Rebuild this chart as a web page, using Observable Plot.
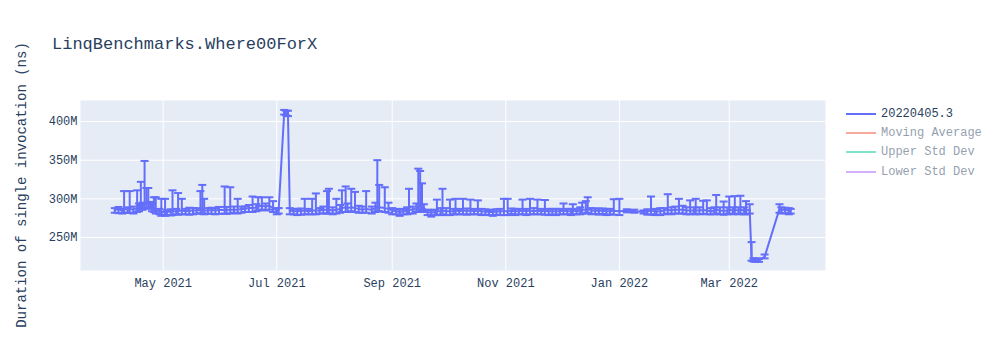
<!DOCTYPE html>
<html><head><meta charset="utf-8">
<script src="https://cdn.jsdelivr.net/npm/d3@7"></script>
<script src="https://cdn.jsdelivr.net/npm/@observablehq/plot@0.6"></script>
<style>
body{margin:0;background:#fff;}
#wrap{position:relative;width:1000px;height:350px;font-family:"Courier New","Liberation Mono",monospace;color:#2a3f5f;}
#title{position:absolute;left:52px;top:35px;font-size:17px;line-height:20px;white-space:pre;}
#ylabel{position:absolute;left:22px;top:185px;font-size:14px;white-space:pre;transform:translate(-50%,-50%) rotate(-90deg);}
#legend{position:absolute;left:846px;top:104px;font-size:12px;}
.item{height:19.4px;display:flex;align-items:center;white-space:pre;}
.sw{width:30px;height:2px;margin-right:5px;}
#chart{position:absolute;left:0;top:0;}
</style></head>
<body><div id="wrap"><div id="chart"></div><div id="title"></div><div id="ylabel"></div><div id="legend"></div></div>
<script>
const titleText = "LinqBenchmarks.Where00ForX";
const yLabelText = "Duration of single invocation (ns)";
const seriesNames = ["20220405.3", "Moving Average", "Upper Std Dev", "Lower Std Dev"];
const seriesColors = ["#636efa", "#EF553B", "#00cc96", "#ab63fa"];
const seriesVisible = [true, false, false, false];

const xTickDates = ["2021-05-01","2021-07-01","2021-09-01","2021-11-01","2022-01-01","2022-03-01"];
const yTicks = [250, 300, 350, 400]; // millions of ns

const dates = [
"2021-04-05","2021-04-07","2021-04-09","2021-04-10","2021-04-12","2021-04-13","2021-04-15","2021-04-17","2021-04-18","2021-04-19","2021-04-20","2021-04-21","2021-04-22","2021-04-23","2021-04-24","2021-04-25","2021-04-26","2021-04-27","2021-04-29","2021-04-30",
"2021-05-02","2021-05-03","2021-05-05","2021-05-06","2021-05-08","2021-05-09","2021-05-11","2021-05-13","2021-05-15","2021-05-17","2021-05-19","2021-05-21","2021-05-22","2021-05-23","2021-05-25","2021-05-27","2021-05-29","2021-05-31",
"2021-06-03","2021-06-04","2021-06-06","2021-06-08","2021-06-10","2021-06-12","2021-06-14","2021-06-16","2021-06-18","2021-06-20","2021-06-21","2021-06-23","2021-06-25","2021-06-27","2021-06-29",
"2021-07-01","2021-07-02","2021-07-05","2021-07-06","2021-07-07","2021-07-08","2021-07-10","2021-07-12","2021-07-14","2021-07-16","2021-07-18","2021-07-20","2021-07-22","2021-07-24","2021-07-26","2021-07-28","2021-07-29","2021-07-31",
"2021-08-02","2021-08-04","2021-08-05","2021-08-07","2021-08-08","2021-08-10","2021-08-12","2021-08-14","2021-08-16","2021-08-18","2021-08-21","2021-08-23","2021-08-24","2021-08-25","2021-08-28","2021-08-30",
"2021-09-01","2021-09-03","2021-09-05","2021-09-07","2021-09-09","2021-09-10","2021-09-12","2021-09-14","2021-09-15","2021-09-16","2021-09-17","2021-09-18","2021-09-20","2021-09-22","2021-09-24","2021-09-25","2021-09-27","2021-09-28","2021-09-30",
"2021-10-02","2021-10-04","2021-10-05","2021-10-07","2021-10-09","2021-10-11","2021-10-13","2021-10-15","2021-10-17","2021-10-19","2021-10-21","2021-10-23","2021-10-25","2021-10-27","2021-10-29","2021-10-31",
"2021-11-02","2021-11-04","2021-11-06","2021-11-08","2021-11-10","2021-11-12","2021-11-14","2021-11-16","2021-11-18","2021-11-20","2021-11-22","2021-11-24","2021-11-26","2021-11-28","2021-11-30",
"2021-12-02","2021-12-04","2021-12-06","2021-12-07","2021-12-09","2021-12-11","2021-12-12","2021-12-14","2021-12-15","2021-12-17","2021-12-19","2021-12-21","2021-12-23","2021-12-25","2021-12-27","2021-12-29",
"2022-01-01","2022-01-05","2022-01-09","2022-01-14","2022-01-16","2022-01-18","2022-01-20","2022-01-21","2022-01-23","2022-01-25","2022-01-27","2022-01-29","2022-01-31",
"2022-02-02","2022-02-04","2022-02-06","2022-02-08","2022-02-10","2022-02-11","2022-02-13","2022-02-15","2022-02-17","2022-02-19","2022-02-21","2022-02-22","2022-02-24","2022-02-26","2022-02-28",
"2022-03-01","2022-03-03","2022-03-04","2022-03-06","2022-03-07","2022-03-09","2022-03-10","2022-03-12","2022-03-13","2022-03-14","2022-03-15","2022-03-16","2022-03-17","2022-03-20","2022-03-28","2022-03-29","2022-03-31","2022-04-02","2022-04-03"
];
// mean duration, millions of ns
const values = [
286,286.5,285,287,286,287,286,288,289,292,291,295,293,295,292,289,288,286,284,283,
283,283,283.5,284,284,284.5,285,284,284.5,285,285,286,286,285,285,285.5,285,285.5,
286,285.5,286,286,286,287,287,288,288,289,290,291,290,291,288,
285,285,412,411,410,285,284,284,284.5,285,284,285,285,285,286,286,286,285,
286,287,288,289,288,289,288,287,286,287,286,288,290,289,288,287,
285,284,283,284,285,286,286,288,290,291,292,288,283,282,283,284,284,285,284,
284,284,285,284,285,284.5,285,284,285,284,283.5,283,283,283.5,284,284,
284,284.5,284,284,285,284,285,284,285,284,284.5,284,284,284,284,
285,284,284,285,284,285,286,286,287,285,284.5,284.5,284.5,284,284,284.5,
284,284.5,284,283,283.5,285,284,283.5,284,285,286,285,286,
286,286,285,285,285,285,285,285.5,285,284,285,286,285,284.5,285,
286,285,285.5,285,286,285,285,286,222,221,220.5,221,220.5,225,287,286,285.5,285,285
];
// upper error, millions of ns
const errPlus = [
2,3,2,23,3,23,4,23,5,30,4,54,21,19,4,5,14,16,3,17,
17,2,3,27,3,23,15,3,4,3,3,24,32,15,3,3,3,4,
30,4,29,4,14,3,3,4,15,4,12,11,4,11,9,
3,3,3,3,4,3,3,3,3,15,3,15,22,3,4,24,27,4,
14,5,23,27,6,24,21,4,4,23,4,7,60,29,27,8,
3,3,3,3,4,27,4,6,49,45,28,5,3,3,3,15,4,28,4,
15,3,15,3,15,3,14,3,13,3,3,2,3,3,3,16,
16,3,3,3,14,3,15,4,14,3,14,3,3,3,3,
9,3,3,8,3,4,9,11,15,3,3,3,3,3,3,15,
16,2,2,2,3,18,3,3,4,3,20,4,4,
14,5,4,13,4,15,4,12,13,4,4,19,4,12,4,
17,4,18,4,18,4,12,7,22,2,2,2,2,3,6,3,3,3,2
];
// lower error, millions of ns
const errMinus = [
4,5,4,5,4,5,5,5,5,6,5,6,5,6,5,5,5,5,4,5,
5,4,5,5,4,5,5,4,5,5,4,5,5,5,4,5,5,5,
5,5,5,4,5,5,4,5,5,5,5,5,5,5,5,
5,4,3,3,3,5,4,5,5,5,4,5,5,4,5,5,5,5,
5,5,5,6,5,5,5,5,4,5,5,5,6,5,5,5,
5,4,5,4,5,5,5,5,6,6,6,5,4,5,4,5,5,5,5,
5,4,5,4,5,5,5,4,5,5,4,4,5,4,5,5,
5,4,5,4,5,5,5,4,5,4,5,5,4,5,4,
5,4,5,5,4,5,5,5,5,5,4,5,4,5,4,5,
5,2,2,2,4,5,5,4,5,5,5,5,5,
5,5,5,5,4,5,5,5,5,4,5,5,5,5,5,
5,5,5,5,5,5,5,5,2,2,2,2,2,2,5,5,4,5,4
];

const rows = dates.map((d, i) => ({
  date: new Date(d),
  v: values[i] * 1e6,
  hi: (values[i] + errPlus[i]) * 1e6,
  lo: (values[i] - errMinus[i]) * 1e6
}));

const color = seriesColors[0];
const cap = {draw(ctx) { ctx.moveTo(-4, 0); ctx.lineTo(4, 0); }};
const font = '"Courier New","Liberation Mono",monospace';

const chart = Plot.plot({
  width: 1000, height: 350,
  marginLeft: 80, marginRight: 175, marginTop: 100, marginBottom: 80,
  style: {fontFamily: font, fontSize: "12px", color: "#2a3f5f", background: "transparent", overflow: "visible"},
  x: {type: "utc", domain: [new Date("2021-03-17T14:00:00Z"), new Date("2022-04-21T17:00:00Z")]},
  y: {domain: [207.3e6, 427.2e6]},
  marks: [
    Plot.frame({fill: "#E5ECF6", stroke: "none"}),
    Plot.gridX(xTickDates.map(d => new Date(d)), {stroke: "#fff", strokeOpacity: 1, strokeWidth: 1}),
    Plot.gridY(yTicks.map(t => t * 1e6), {stroke: "#fff", strokeOpacity: 1, strokeWidth: 1}),
    Plot.axisX(xTickDates.map(d => new Date(d)), {tickSize: 0, tickPadding: 8, tickFormat: d3.utcFormat("%b %Y"), label: null}),
    Plot.axisY(yTicks.map(t => t * 1e6), {tickSize: 0, tickPadding: 3, tickFormat: d => d / 1e6 + "M", label: null}),
    Plot.ruleX(rows, {x: "date", y1: "lo", y2: "hi", stroke: color, strokeWidth: 2}),
    Plot.dot(rows, {x: "date", y: "hi", symbol: cap, stroke: color, strokeWidth: 2, r: 4}),
    Plot.dot(rows, {x: "date", y: "lo", symbol: cap, stroke: color, strokeWidth: 2, r: 4}),
    Plot.line(rows, {x: "date", y: "v", stroke: color, strokeWidth: 2})
  ]
});
document.getElementById("chart").appendChild(chart);
document.getElementById("title").textContent = titleText;
document.getElementById("ylabel").textContent = yLabelText;

const legend = document.getElementById("legend");
seriesNames.forEach((name, i) => {
  const item = document.createElement("div");
  item.className = "item";
  if (!seriesVisible[i]) item.style.opacity = 0.5;
  const sw = document.createElement("span");
  sw.className = "sw";
  sw.style.background = seriesColors[i];
  const t = document.createElement("span");
  t.textContent = name;
  item.appendChild(sw);
  item.appendChild(t);
  legend.appendChild(item);
});
</script>
</body></html>
